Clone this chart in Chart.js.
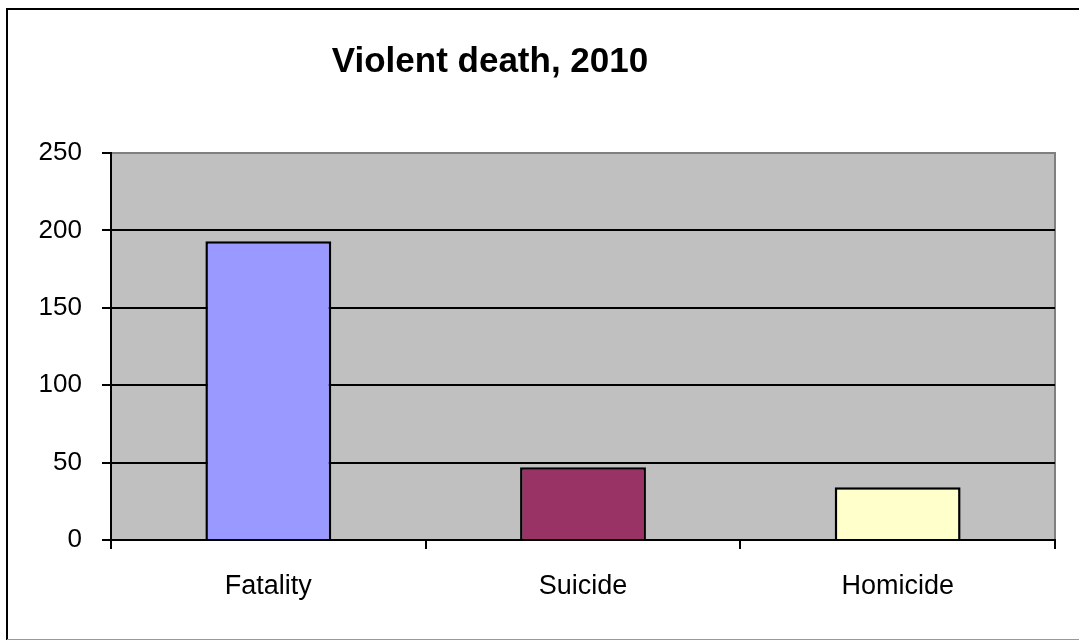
<!DOCTYPE html>
<html>
<head>
<meta charset="utf-8">
<script src="https://cdn.jsdelivr.net/npm/chart.js@4"></script>
<style>
    html, body { margin: 0; padding: 0; background: #fff; }
    #wrap { position: relative; width: 1079px; height: 641px; }
    #chartTitle {
        position: absolute; left: 0; top: 40px; width: 980px; text-align: center;
        font-family: "Liberation Sans", Arial, sans-serif; font-weight: bold; font-size: 35px; color: #000;
    }
</style>
</head>
<body>
<div id="wrap">
    <canvas id="chart" width="1079" height="641"></canvas>
    <div id="chartTitle">Violent death, 2010</div>
</div>
<script>
const categories = ["Fatality", "Suicide", "Homicide"];
const deaths = [193, 47, 34];
const barColors = ["#9999FF", "#993366", "#FFFFCC"];
const yTicks = [0, 50, 100, 150, 200, 250];

// gray plot area + excel-ish frame
const framePlugin = {
    id: 'frame',
    beforeDraw(c) {
        const ctx = c.ctx;
        const a = c.chartArea;
        ctx.save();
        ctx.fillStyle = '#C0C0C0';
        ctx.fillRect(a.left, a.top, a.right - a.left, a.bottom - a.top);
        ctx.strokeStyle = '#808080';
        ctx.lineWidth = 2;
        ctx.beginPath();
        ctx.moveTo(a.left, a.top);
        ctx.lineTo(a.right, a.top);
        ctx.lineTo(a.right, a.bottom);
        ctx.stroke();
        ctx.restore();
    },
    afterDraw(c) {
        const ctx = c.ctx;
        ctx.save();
        ctx.strokeStyle = '#000';
        ctx.lineWidth = 2;
        ctx.beginPath();
        ctx.moveTo(7, 640);
        ctx.lineTo(7, 9);
        ctx.lineTo(1079, 9);
        ctx.stroke();
        ctx.strokeStyle = '#999';
        ctx.lineWidth = 1;
        ctx.beginPath();
        ctx.moveTo(7, 639.5);
        ctx.lineTo(1079, 639.5);
        ctx.stroke();
        ctx.restore();
    }
};

new Chart(document.getElementById('chart'), {
    type: 'bar',
    data: {
        labels: categories,
        datasets: [{
            data: deaths,
            backgroundColor: barColors,
            borderColor: '#000',
            borderWidth: 2.5,
            barPercentage: 0.4,
            categoryPercentage: 1.0
        }]
    },
    options: {
        responsive: false,
        animation: false,
        devicePixelRatio: 1,
        layout: { padding: { left: 0, right: 24, top: 153, bottom: 0 } },
        plugins: {
            legend: { display: false },
            title: { display: false },
            tooltip: { enabled: false }
        },
        scales: {
            x: {
                afterFit(scale) { scale.height = 101; },
                border: { display: true, color: '#000', width: 2 },
                grid: { offset: true, drawOnChartArea: false, drawTicks: true, tickLength: 9, color: '#000', lineWidth: 2 },
                ticks: {
                    color: '#000', padding: 21,
                    font: { family: '"Liberation Sans", Arial, sans-serif', size: 27 }
                }
            },
            y: {
                min: 0, max: 250,
                afterFit(scale) { scale.width = 111; },
                afterBuildTicks(scale) { scale.ticks = yTicks.map(v => ({ value: v })); },
                border: { display: true, color: '#000', width: 2 },
                grid: {
                    color: (ctx) => (ctx.tick && ctx.tick.value === 250) ? '#808080' : '#000',
                    tickColor: '#000',
                    lineWidth: 2, tickLength: 9, drawTicks: true
                },
                ticks: {
                    color: '#000', padding: 20,
                    font: { family: '"Liberation Sans", Arial, sans-serif', size: 26 }
                }
            }
        }
    },
    plugins: [framePlugin]
});
</script>
</body>
</html>
